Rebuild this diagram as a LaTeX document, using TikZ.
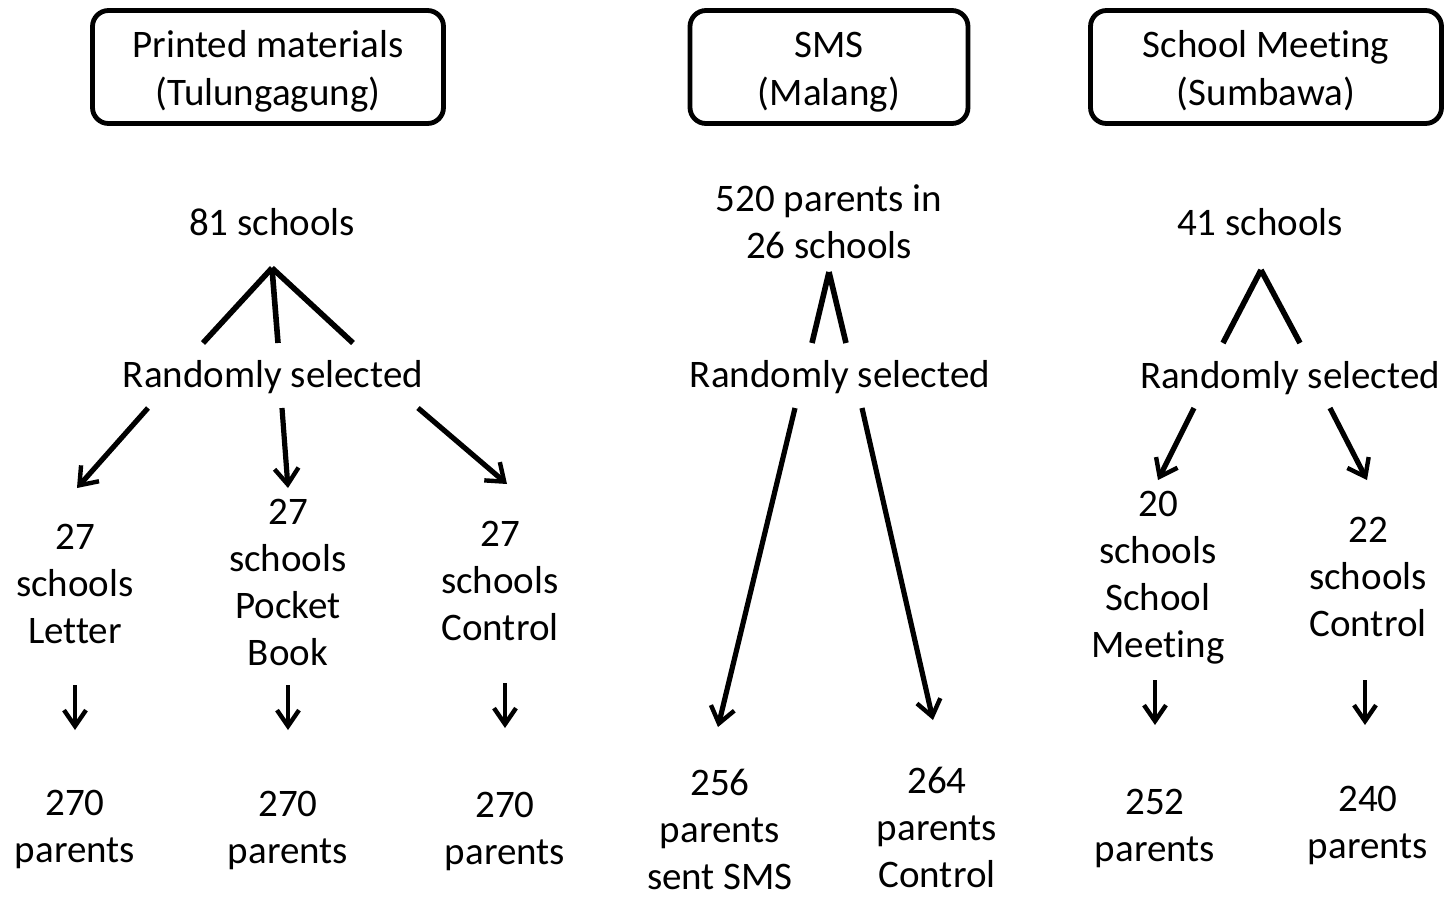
\documentclass[tikz,border=0pt]{standalone}
\usepackage{fontspec}
\setmainfont[Ligatures=NoCommon]{Carlito}
\usetikzlibrary{arrows.meta,calc}
\newcommand{\hstrut}{\rule{0pt}{17.5pt}}
\tikzset{
  txt/.style={align=center,inner sep=0pt,font=\fontsize{19.5}{23.5}\selectfont},
  hdr/.style={align=center,inner sep=0pt,font=\fontsize{19.5}{24}\selectfont,draw,line width=2.4pt,rounded corners=8pt,minimum width=175.5pt,minimum height=56.5pt},
  ln/.style={line width=2.8pt},
  arr/.style={line width=2.6pt,-{Straight Barb[length=8pt,width=12pt,line width=2.2pt]}},
  sarr/.style={line width=2.2pt,-{Straight Barb[length=8pt,width=11pt,line width=2.2pt]}}
}
\begin{document}
\begin{tikzpicture}[x=0.5pt,y=-0.5pt]
\useasboundingbox (0,0) rectangle (1446,896);
% headers
\node[hdr] (h1) at (268,67) {\hstrut Printed materials\\(Tulungagung)};
\node[hdr,minimum width=139pt] (h2) at (829,67) {\hstrut SMS\\(Malang)};
\node[hdr] (h3) at (1266,67) {\hstrut School Meeting\\(Sumbawa)};
% group 1
\node[txt] (s1) at (272,222) {81 schools};
\node[txt] (r1) at (273,377) {Randomly selected};
\node[txt] (c1) at (75,584) {27\\schools\\Letter};
\node[txt] (c2) at (288,582) {27\\schools\\Pocket\\Book};
\node[txt] (c3) at (500,581) {27\\schools\\Control};
\node[txt] (p1) at (75,829) {270\\parents};
\node[txt] (p2) at (288,830) {270\\parents};
\node[txt] (p3) at (505,831) {270\\parents};
\draw[ln] ($(s1)+(0,46)$) -- ($(r1)+(-70,-34)$);
\draw[ln] ($(s1)+(0,46)$) -- ($(r1)+(5,-34)$);
\draw[ln] ($(s1)+(0,46)$) -- ($(r1)+(80,-34)$);
\draw[arr] ($(r1)+(-125,31)$) -- ($(c1)+(2,-96)$);
\draw[arr] ($(r1)+(9,31)$) -- ($(c2)+(0,-94)$);
\draw[arr] ($(r1)+(145,31)$) -- ($(c3)+(7,-97)$);
\draw[sarr] ($(c1)+(0,101)$) -- ($(p1)+(0,-99)$);
\draw[sarr] ($(c2)+(0,103)$) -- ($(p2)+(0,-100)$);
\draw[sarr] ($(c3)+(5,102)$) -- ($(p3)+(0,-103)$);
% group 2
\node[txt] (s2) at (829,222) {520 parents in\\26 schools};
\node[txt] (r2) at (840,377) {Randomly selected};
\node[txt] (q1) at (720,829) {256\\parents\\sent SMS};
\node[txt] (q2) at (937,827) {264\\parents\\Control};
\draw[ln] ($(s2)+(0,50)$) -- ($(r2)+(-28,-34)$);
\draw[ln] ($(s2)+(0,50)$) -- ($(r2)+(6,-34)$);
\draw[arr] ($(r2)+(-45,31)$) -- ($(q1)+(-2,-102)$);
\draw[arr] ($(r2)+(22,31)$) -- ($(q2)+(-4,-107)$);
% group 3
\node[txt] (s3) at (1260,222) {41 schools};
\node[txt] (r3) at (1290,378) {Randomly selected};
\node[txt] (d1) at (1158,578) {20\\schools\\School\\Meeting};
\node[txt] (d2) at (1368,577) {22\\schools\\Control};
\node[txt] (e1) at (1155,828) {252\\parents};
\node[txt] (e2) at (1368,825) {240\\parents};
\draw[ln] ($(s3)+(1,48)$) -- ($(r3)+(-67,-35)$);
\draw[ln] ($(s3)+(1,48)$) -- ($(r3)+(10,-35)$);
\draw[arr] ($(r3)+(-96,30)$) -- ($(d1)+(0,-98)$);
\draw[arr] ($(r3)+(40,30)$) -- ($(d2)+(-1,-97)$);
\draw[sarr] ($(d1)+(-3,102)$) -- ($(e1)+(0,-103)$);
\draw[sarr] ($(d2)+(-3,103)$) -- ($(e2)+(-3,-100)$);
\end{tikzpicture}
\end{document}
